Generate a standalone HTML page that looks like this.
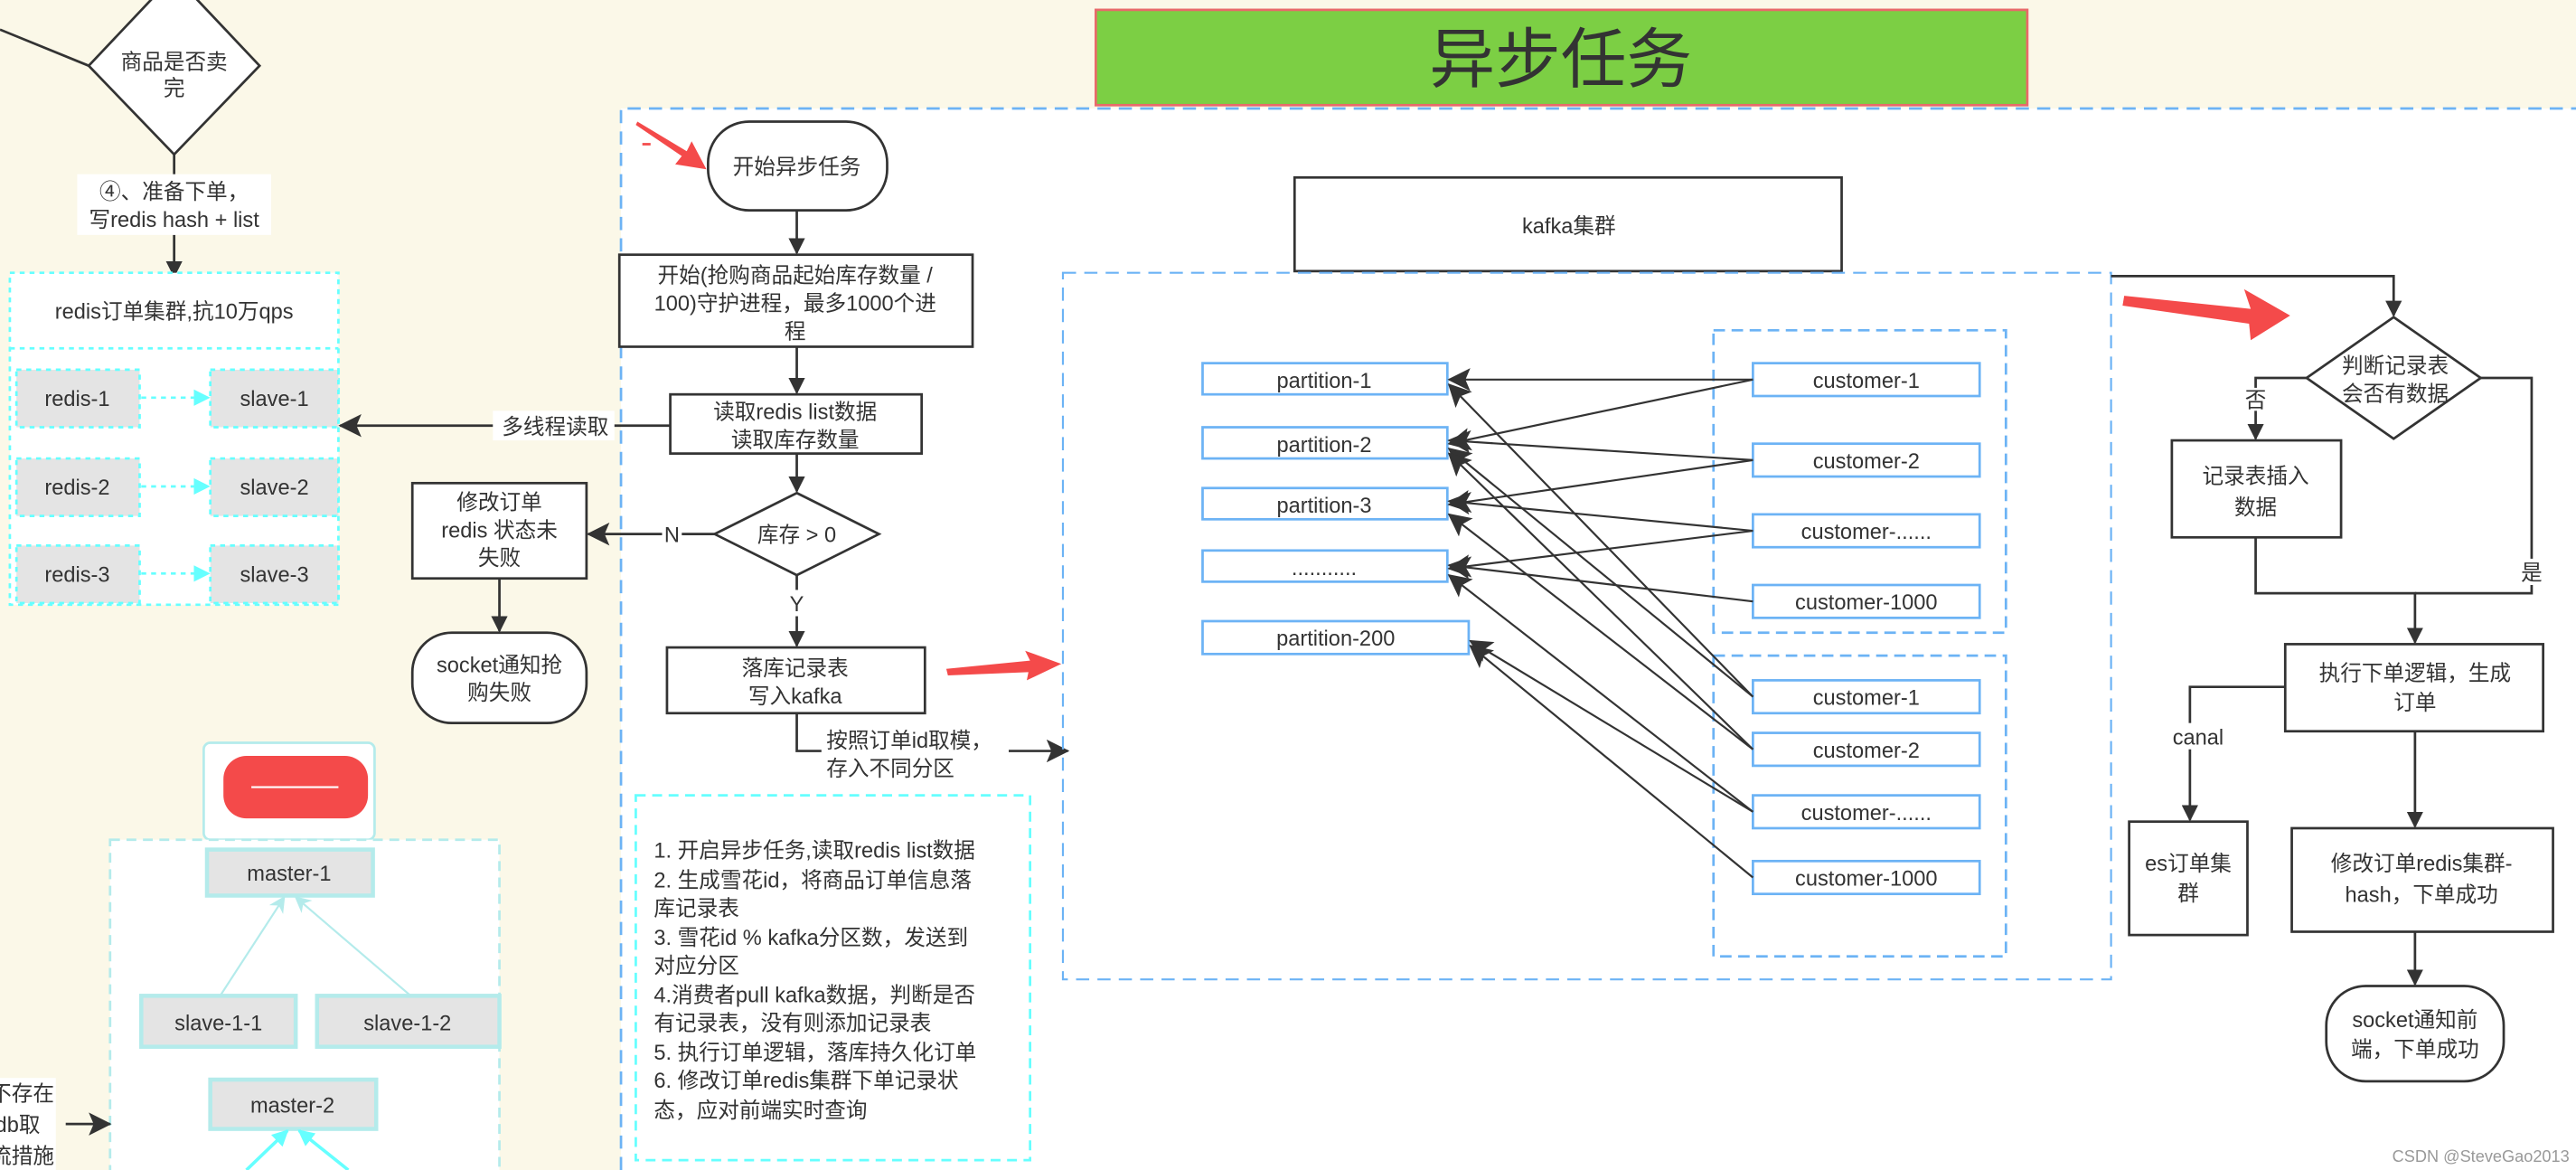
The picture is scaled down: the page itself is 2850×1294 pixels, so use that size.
<!DOCTYPE html>
<html><head><meta charset="utf-8"><style>
html,body{margin:0;padding:0;background:#fbf8e8;}
svg{display:block;}
text{font-family:"Liberation Sans","Noto Sans CJK SC",sans-serif;fill:#333;font-size:13px;}
</style></head><body>
<svg width="2850" height="1294" viewBox="0 0 1568 712" preserveAspectRatio="none" xmlns="http://www.w3.org/2000/svg">
<defs>
<marker id="a" markerWidth="10" markerHeight="10" refX="9" refY="5" orient="auto" markerUnits="userSpaceOnUse"><path d="M0,0 L10,5 L0,10 z" fill="#333"/></marker>
<marker id="ab" markerWidth="14" markerHeight="14" refX="13" refY="7" orient="auto" markerUnits="userSpaceOnUse"><path d="M0,0 L14,7 L0,14 L3,7 z" fill="#333"/></marker>
<marker id="ac" markerWidth="10" markerHeight="10" refX="9" refY="5" orient="auto" markerUnits="userSpaceOnUse"><path d="M0,0 L10,5 L0,10 z" fill="#6ff"/></marker>
<marker id="acl" markerWidth="10" markerHeight="10" refX="9" refY="5" orient="auto" markerUnits="userSpaceOnUse"><path d="M0,0 L10,5 L0,10 L3,5 z" fill="#b4ebeb"/></marker>
</defs>
<rect x="0" y="0" width="1568" height="712" fill="#fbf8e8"/>
<rect x="378" y="66" width="1190" height="646" fill="#fff"/>
<path d="M378,712 L378,66 L1568,66" fill="none" stroke="#6cb3f5" stroke-width="1.5" stroke-dasharray="8,5"/>
<rect x="667" y="6" width="567" height="58" fill="#7ccf44" stroke="#e86a6a" stroke-width="1.5"/>
<text x="950" y="50" text-anchor="middle" style="font-size:40px">异步任务</text>

<line x1="0" y1="18" x2="54" y2="40" stroke="#333" stroke-width="1.5"/>
<line x1="106" y1="-5" x2="106" y2="-2" stroke="#333" stroke-width="1.5" marker-end="url(#a)"/>
<path d="M106,-15 L158,40 L106,94 L54,40 z" fill="#fff" stroke="#333" stroke-width="1.5"/>
<text x="106" y="42" text-anchor="middle">商品是否卖</text>
<text x="106" y="58" text-anchor="middle">完</text>
<line x1="106" y1="94" x2="106" y2="168" stroke="#333" stroke-width="1.5" marker-end="url(#a)"/>
<rect x="47" y="106" width="118" height="37" fill="#fff"/>
<text x="106" y="121" text-anchor="middle">④、准备下单，</text>
<text x="106" y="138" text-anchor="middle">写redis hash + list</text>

<rect x="6" y="166" width="200" height="202" fill="#fff" stroke="#6ff" stroke-width="1.5" stroke-dasharray="3,3"/>
<line x1="6" y1="212" x2="206" y2="212" stroke="#6ff" stroke-width="1.5" stroke-dasharray="3,3"/>
<text x="106" y="194" text-anchor="middle">redis订单集群,抗10万qps</text>
<g stroke="#6ff" stroke-width="1.5" stroke-dasharray="3,3" fill="#e4e4e4">
<rect x="10" y="225" width="75" height="35"/><rect x="128" y="225" width="78" height="35"/>
<rect x="10" y="279" width="75" height="35"/><rect x="128" y="279" width="78" height="35"/>
<rect x="10" y="332" width="75" height="35"/><rect x="128" y="332" width="78" height="35"/>
</g>
<g stroke="#6ff" stroke-width="1.5" stroke-dasharray="3,3">
<line x1="86" y1="242" x2="127" y2="242" marker-end="url(#ac)"/>
<line x1="86" y1="296" x2="127" y2="296" marker-end="url(#ac)"/>
<line x1="86" y1="349" x2="127" y2="349" marker-end="url(#ac)"/>
</g>
<text x="47" y="247" text-anchor="middle">redis-1</text><text x="167" y="247" text-anchor="middle">slave-1</text>
<text x="47" y="301" text-anchor="middle">redis-2</text><text x="167" y="301" text-anchor="middle">slave-2</text>
<text x="47" y="354" text-anchor="middle">redis-3</text><text x="167" y="354" text-anchor="middle">slave-3</text>

<line x1="408" y1="259" x2="207" y2="259" stroke="#333" stroke-width="1.5" marker-end="url(#ab)"/>
<rect x="300" y="250" width="74" height="18" fill="#fff"/>
<text x="338" y="264" text-anchor="middle">多线程读取</text>

<rect x="431" y="74" width="109" height="54" rx="25" fill="#fff" stroke="#333" stroke-width="1.5"/>
<text x="485" y="106" text-anchor="middle">开始异步任务</text>
<line x1="485" y1="128" x2="485" y2="154" stroke="#333" stroke-width="1.5" marker-end="url(#a)"/>
<rect x="377" y="155" width="215" height="56" fill="#fff" stroke="#333" stroke-width="1.5"/>
<text x="484" y="172" text-anchor="middle">开始(抢购商品起始库存数量 /</text>
<text x="484" y="189" text-anchor="middle">100)守护进程，最多1000个进</text>
<text x="484" y="206" text-anchor="middle">程</text>
<line x1="485" y1="211" x2="485" y2="239" stroke="#333" stroke-width="1.5" marker-end="url(#a)"/>
<rect x="408" y="240" width="153" height="36" fill="#fff" stroke="#333" stroke-width="1.5"/>
<text x="484" y="255" text-anchor="middle">读取redis list数据</text>
<text x="484" y="272" text-anchor="middle">读取库存数量</text>
<line x1="485" y1="276" x2="485" y2="299" stroke="#333" stroke-width="1.5" marker-end="url(#a)"/>
<path d="M485,300 L535,325 L485,350 L435,325 z" fill="#fff" stroke="#333" stroke-width="1.5"/>
<text x="485" y="330" text-anchor="middle">库存 &gt; 0</text>
<line x1="435" y1="325" x2="358" y2="325" stroke="#333" stroke-width="1.5" marker-end="url(#ab)"/>
<rect x="403" y="317" width="12" height="16" fill="#fff"/><text x="409" y="330" text-anchor="middle">N</text>
<rect x="251" y="294" width="106" height="58" fill="#fff" stroke="#333" stroke-width="1.5"/>
<text x="304" y="310" text-anchor="middle">修改订单</text>
<text x="304" y="327" text-anchor="middle">redis 状态未</text>
<text x="304" y="344" text-anchor="middle">失败</text>
<line x1="304" y1="352" x2="304" y2="384" stroke="#333" stroke-width="1.5" marker-end="url(#a)"/>
<rect x="251" y="385" width="106" height="55" rx="24" fill="#fff" stroke="#333" stroke-width="1.5"/>
<text x="304" y="409" text-anchor="middle">socket通知抢</text>
<text x="304" y="426" text-anchor="middle">购失败</text>
<line x1="485" y1="350" x2="485" y2="393" stroke="#333" stroke-width="1.5" marker-end="url(#a)"/>
<rect x="479" y="359" width="12" height="16" fill="#fff"/><text x="485" y="372" text-anchor="middle">Y</text>
<rect x="406" y="394" width="157" height="40" fill="#fff" stroke="#333" stroke-width="1.5"/>
<text x="484" y="411" text-anchor="middle">落库记录表</text>
<text x="484" y="428" text-anchor="middle">写入kafka</text>
<path d="M485,434 L485,457 L500,457" fill="none" stroke="#333" stroke-width="1.5"/>
<text x="503" y="455">按照订单id取模，</text>
<text x="503" y="472">存入不同分区</text>
<line x1="614" y1="457" x2="650" y2="457" stroke="#333" stroke-width="1.5" marker-end="url(#ab)"/>

<path d="M388,74 L418,92 L421,86 L430,103 L411,100 L415,95 L387,76 z" fill="#f44a4a"/>
<rect x="391" y="87" width="5" height="1.5" fill="#f44a4a"/>
<path d="M576,407 L627,402 L624,396 L646,404 L625,414 L626,409 L577,411 z" fill="#f44a4a"/>
<path d="M1293,180 L1370,188 L1366,176 L1394,192 L1370,207 L1369,197 L1292,186 z" fill="#f44a4a"/>

<rect x="387" y="484" width="240" height="222" fill="#fff" stroke="#6ff" stroke-width="1.5" stroke-dasharray="6,4"/>
<g>
<text x="398" y="522">1. 开启异步任务,读取redis list数据</text>
<text x="398" y="540">2. 生成雪花id，将商品订单信息落</text>
<text x="398" y="557">库记录表</text>
<text x="398" y="575">3. 雪花id % kafka分区数，发送到</text>
<text x="398" y="592">对应分区</text>
<text x="398" y="610">4.消费者pull kafka数据，判断是否</text>
<text x="398" y="627">有记录表，没有则添加记录表</text>
<text x="398" y="645">5. 执行订单逻辑，落库持久化订单</text>
<text x="398" y="662">6. 修改订单redis集群下单记录状</text>
<text x="398" y="680">态，应对前端实时查询</text>
</g>

<rect x="124" y="452" width="104" height="59" rx="4" fill="#fff" stroke="#b4ebeb" stroke-width="1.5"/>
<rect x="136" y="460" width="88" height="38" rx="14" fill="#f44a4a"/>
<line x1="153" y1="479" x2="206" y2="479" stroke="#fff" stroke-width="1.2"/>
<rect x="67" y="511" width="237" height="205" fill="#fff" stroke="#b4ebeb" stroke-width="1.5" stroke-dasharray="6,4"/>
<g fill="#e4e4e4" stroke="#b4ebeb" stroke-width="2.5">
<rect x="126" y="517" width="101" height="28"/>
<rect x="86" y="606" width="94" height="31"/>
<rect x="193" y="606" width="111" height="31"/>
<rect x="128" y="657" width="101" height="30"/>
</g>
<text x="176" y="536" text-anchor="middle">master-1</text>
<text x="133" y="627" text-anchor="middle">slave-1-1</text>
<text x="248" y="627" text-anchor="middle">slave-1-2</text>
<text x="178" y="677" text-anchor="middle">master-2</text>
<line x1="134" y1="606" x2="173" y2="546" stroke="#b4ebeb" stroke-width="1.2" marker-end="url(#acl)"/>
<line x1="250" y1="606" x2="180" y2="546" stroke="#b4ebeb" stroke-width="1.2" marker-end="url(#acl)"/>
<line x1="150" y1="712" x2="175" y2="688" stroke="#6ff" stroke-width="2" marker-end="url(#ac)"/>
<line x1="212" y1="712" x2="182" y2="688" stroke="#6ff" stroke-width="2" marker-end="url(#ac)"/>
<rect x="0" y="656" width="34" height="56" fill="#fff"/>
<text x="-6" y="670">不存在</text>
<text x="-3" y="689">db取</text>
<text x="-6" y="708">流措施</text>
<line x1="40" y1="684" x2="67" y2="684" stroke="#333" stroke-width="1.5" marker-end="url(#ab)"/>

<rect x="788" y="108" width="333" height="57" fill="#fff" stroke="#333" stroke-width="1.5"/>
<text x="955" y="142" text-anchor="middle">kafka集群</text>
<rect x="647" y="166" width="638" height="430" fill="none" stroke="#6cb3f5" stroke-width="1.2" stroke-dasharray="8,5"/>
<rect x="1043" y="201" width="178" height="184" fill="none" stroke="#6cb3f5" stroke-width="1.5" stroke-dasharray="7,4"/>
<rect x="1043" y="399" width="178" height="183" fill="none" stroke="#6cb3f5" stroke-width="1.5" stroke-dasharray="7,4"/>
<g fill="#fff" stroke="#6cb3f5" stroke-width="1.5">
<rect x="732" y="221" width="149" height="19"/>
<rect x="732" y="260" width="149" height="19"/>
<rect x="732" y="297" width="149" height="19"/>
<rect x="732" y="335" width="149" height="19"/>
<rect x="732" y="378" width="162" height="20"/>
<rect x="1067" y="221" width="138" height="20"/>
<rect x="1067" y="270" width="138" height="20"/>
<rect x="1067" y="313" width="138" height="20"/>
<rect x="1067" y="356" width="138" height="20"/>
<rect x="1067" y="414" width="138" height="20"/>
<rect x="1067" y="446" width="138" height="20"/>
<rect x="1067" y="484" width="138" height="20"/>
<rect x="1067" y="524" width="138" height="20"/>
</g>
<g text-anchor="middle">
<text x="806" y="236">partition-1</text>
<text x="806" y="275">partition-2</text>
<text x="806" y="312">partition-3</text>
<text x="806" y="350">...........</text>
<text x="813" y="393">partition-200</text>
<text x="1136" y="236">customer-1</text>
<text x="1136" y="285">customer-2</text>
<text x="1136" y="328">customer-......</text>
<text x="1136" y="371">customer-1000</text>
<text x="1136" y="429">customer-1</text>
<text x="1136" y="461">customer-2</text>
<text x="1136" y="499">customer-......</text>
<text x="1136" y="539">customer-1000</text>
</g>
<g stroke="#333" stroke-width="1.2" fill="none">
<line x1="1067" y1="231" x2="882" y2="231" marker-end="url(#ab)"/>
<line x1="1067" y1="231" x2="882" y2="270" marker-end="url(#ab)"/>
<line x1="1067" y1="280" x2="882" y2="268" marker-end="url(#ab)"/>
<line x1="1067" y1="280" x2="882" y2="307" marker-end="url(#ab)"/>
<line x1="1067" y1="323" x2="882" y2="305" marker-end="url(#ab)"/>
<line x1="1067" y1="323" x2="882" y2="346" marker-end="url(#ab)"/>
<line x1="1067" y1="366" x2="882" y2="344" marker-end="url(#ab)"/>
<line x1="1067" y1="424" x2="882" y2="234" marker-end="url(#ab)"/>
<line x1="1067" y1="424" x2="882" y2="273" marker-end="url(#ab)"/>
<line x1="1067" y1="456" x2="882" y2="276" marker-end="url(#ab)"/>
<line x1="1067" y1="456" x2="882" y2="313" marker-end="url(#ab)"/>
<line x1="1067" y1="494" x2="882" y2="350" marker-end="url(#ab)"/>
<line x1="1067" y1="494" x2="895" y2="390" marker-end="url(#ab)"/>
<line x1="1067" y1="534" x2="895" y2="393" marker-end="url(#ab)"/>
</g>

<path d="M1285,168 L1457,168 L1457,192" fill="none" stroke="#333" stroke-width="1.5" marker-end="url(#a)"/>
<path d="M1457,193 L1510,230 L1457,267 L1404,230 z" fill="#fff" stroke="#333" stroke-width="1.5"/>
<text x="1458" y="227" text-anchor="middle">判断记录表</text>
<text x="1458" y="244" text-anchor="middle">会否有数据</text>
<path d="M1404,230 L1373,230 L1373,267" fill="none" stroke="#333" stroke-width="1.5" marker-end="url(#a)"/>
<rect x="1367" y="236" width="12" height="14" fill="#fff"/><text x="1373" y="248" text-anchor="middle">否</text>
<rect x="1322" y="268" width="103" height="59" fill="#fff" stroke="#333" stroke-width="1.5"/>
<text x="1373" y="294" text-anchor="middle">记录表插入</text>
<text x="1373" y="313" text-anchor="middle">数据</text>
<path d="M1510,230 L1541,230 L1541,361 L1470,361" fill="none" stroke="#333" stroke-width="1.5"/>
<rect x="1535" y="340" width="12" height="16" fill="#fff"/><text x="1541" y="353" text-anchor="middle">是</text>
<path d="M1373,327 L1373,361 L1470,361 L1470,391" fill="none" stroke="#333" stroke-width="1.5" marker-end="url(#a)"/>
<rect x="1391" y="392" width="157" height="53" fill="#fff" stroke="#333" stroke-width="1.5"/>
<text x="1470" y="414" text-anchor="middle">执行下单逻辑，生成</text>
<text x="1470" y="432" text-anchor="middle">订单</text>
<path d="M1391,418 L1333,418 L1333,499" fill="none" stroke="#333" stroke-width="1.5" marker-end="url(#a)"/>
<rect x="1318" y="440" width="32" height="16" fill="#fff"/><text x="1338" y="453" text-anchor="middle">canal</text>
<rect x="1296" y="500" width="72" height="69" fill="#fff" stroke="#333" stroke-width="1.5"/>
<text x="1332" y="530" text-anchor="middle">es订单集</text>
<text x="1332" y="548" text-anchor="middle">群</text>
<line x1="1470" y1="445" x2="1470" y2="503" stroke="#333" stroke-width="1.5" marker-end="url(#a)"/>
<rect x="1395" y="504" width="159" height="63" fill="#fff" stroke="#333" stroke-width="1.5"/>
<text x="1474" y="530" text-anchor="middle">修改订单redis集群-</text>
<text x="1474" y="549" text-anchor="middle">hash，下单成功</text>
<line x1="1470" y1="567" x2="1470" y2="599" stroke="#333" stroke-width="1.5" marker-end="url(#a)"/>
<rect x="1416" y="600" width="108" height="58" rx="24" fill="#fff" stroke="#333" stroke-width="1.5"/>
<text x="1470" y="625" text-anchor="middle">socket通知前</text>
<text x="1470" y="643" text-anchor="middle">端，下单成功</text>
<text x="1564" y="707" text-anchor="end" style="font-size:10px;fill:#999">CSDN @SteveGao2013</text>
</svg>
</body></html>
